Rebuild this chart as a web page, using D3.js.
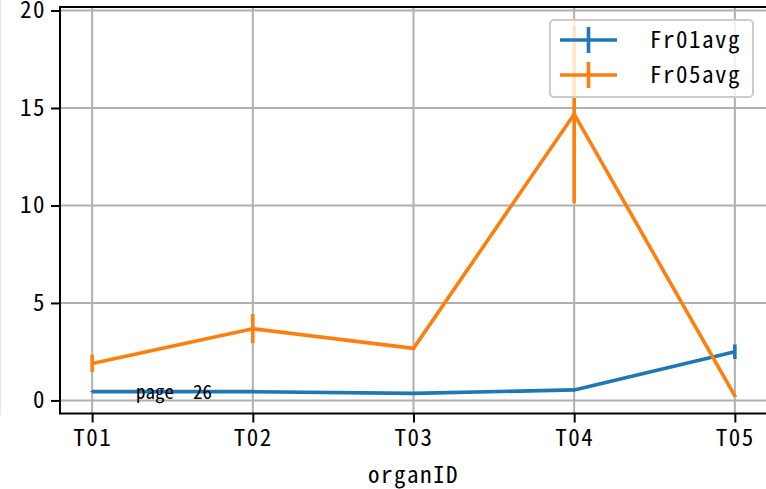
<!DOCTYPE html>
<html>
<head>
<meta charset="utf-8">
<script src="https://cdn.jsdelivr.net/npm/d3@7"></script>
<style>
  html, body { margin: 0; padding: 0; background: #fff; }
  svg { display: block; }
  text { font-family: "Noto Sans Mono CJK SC", "Noto Sans CJK SC", sans-serif; fill: #000; }
</style>
</head>
<body>
<svg id="chart" width="766" height="489"></svg>
<script>
const categories = ["T01", "T02", "T03", "T04", "T05"];
const fr01avg = [0.45, 0.45, 0.36, 0.54, 2.5];
const fr01err = [0.03, 0.03, 0.02, 0.04, 0.37];
const fr05avg = [1.9, 3.68, 2.67, 14.68, 0.23];
const fr05err = [0.44, 0.75, 0.08, 4.55, 0.05];
const yTicks = [0, 5, 10, 15, 20];
const seriesNames = ["Fr01avg", "Fr05avg"];
const seriesColors = ["#1f77b4", "#ff7f0e"];
const xLabel = "organID";
const noteText = "page  26";

const svg = d3.select("#chart");
const pL = 60, pR = 767, pT = 7, pB = 413.5;

const x = d3.scalePoint().domain(categories).range([pL, pR]).padding(0.2);
const y = d3.scaleLinear().domain([-0.67, 20.18]).range([pB, pT]);

// faint page edge
svg.append("line").attr("x1", 0.5).attr("x2", 0.5).attr("y1", 0).attr("y2", 415)
  .attr("stroke", "#e6e6e6").attr("stroke-width", 1);

const defs = svg.append("defs");
defs.append("clipPath").attr("id", "clip").append("rect")
  .attr("x", pL).attr("y", pT).attr("width", pR - pL).attr("height", pB - pT);

// grid
const grid = svg.append("g");
grid.selectAll(".gx").data(categories).join("line")
  .attr("x1", d => x(d)).attr("x2", d => x(d)).attr("y1", pT).attr("y2", pB)
  .attr("stroke", "#b0b0b0").attr("stroke-width", 2);
grid.selectAll(".gy").data(yTicks).join("line")
  .attr("x1", pL).attr("x2", pR).attr("y1", d => y(d)).attr("y2", d => y(d))
  .attr("stroke", "#b0b0b0").attr("stroke-width", 2);

// series
const series = [
  { name: seriesNames[0], vals: fr01avg, errs: fr01err, color: seriesColors[0] },
  { name: seriesNames[1], vals: fr05avg, errs: fr05err, color: seriesColors[1] }
];
const plot = svg.append("g").attr("clip-path", "url(#clip)");
const line = d3.line().x((d, i) => x(categories[i])).y(d => y(d));
series.forEach(s => {
  plot.append("path").datum(s.vals).attr("d", line)
    .attr("fill", "none").attr("stroke", s.color).attr("stroke-width", 3.6)
    .attr("stroke-linejoin", "round").attr("stroke-linecap", "butt");
  plot.selectAll(null).data(s.vals).join("line")
    .attr("x1", (d, i) => x(categories[i])).attr("x2", (d, i) => x(categories[i]))
    .attr("y1", (d, i) => y(d - s.errs[i])).attr("y2", (d, i) => y(d + s.errs[i]))
    .attr("stroke", s.color).attr("stroke-width", 3.6);
});

// note text
svg.append("text").attr("x", 136).attr("y", 399).attr("font-size", 19).text(noteText)
  .style("white-space", "pre");

// axes
const xAxis = d3.axisBottom(x).tickSize(9).tickPadding(7);
const gx = svg.append("g").attr("transform", `translate(0,${pB})`).call(xAxis);
const yAxis = d3.axisLeft(y).tickValues(yTicks).tickSize(9).tickPadding(5);
const gy = svg.append("g").attr("transform", `translate(${pL},0)`).call(yAxis);
[gx, gy].forEach(g => {
  g.select(".domain").remove();
  g.selectAll(".tick line").attr("stroke", "#000").attr("stroke-width", 2);
  g.selectAll(".tick text").attr("font-size", 23).attr("font-family", null)
    .attr("fill", "#000").attr("letter-spacing", "1.5px");
});
gx.selectAll(".tick text").attr("dy", "0.71em");

// frame
svg.append("rect").attr("x", pL).attr("y", pT).attr("width", pR - pL).attr("height", pB - pT)
  .attr("fill", "none").attr("stroke", "#000").attr("stroke-width", 2);

// x label
svg.append("text").attr("x", (pL + pR) / 2).attr("y", 483).attr("text-anchor", "middle")
  .attr("font-size", 23).attr("letter-spacing", "1.5px").text(xLabel);

// legend
const lg = svg.append("g");
lg.append("rect").attr("x", 550).attr("y", 20).attr("width", 203).attr("height", 77).attr("rx", 4)
  .attr("fill", "#fff").attr("fill-opacity", 0.8).attr("stroke", "#cccccc").attr("stroke-width", 2);
series.forEach((s, i) => {
  const cy = 40 + i * 35;
  lg.append("line").attr("x1", 560).attr("x2", 617).attr("y1", cy).attr("y2", cy)
    .attr("stroke", s.color).attr("stroke-width", 3.6);
  lg.append("line").attr("x1", 588.5).attr("x2", 588.5).attr("y1", cy - 13).attr("y2", cy + 13)
    .attr("stroke", s.color).attr("stroke-width", 3.6);
  lg.append("text").attr("x", 650).attr("y", cy + 8).attr("font-size", 23)
    .attr("letter-spacing", "1.5px").text(s.name);
});
</script>
</body>
</html>
